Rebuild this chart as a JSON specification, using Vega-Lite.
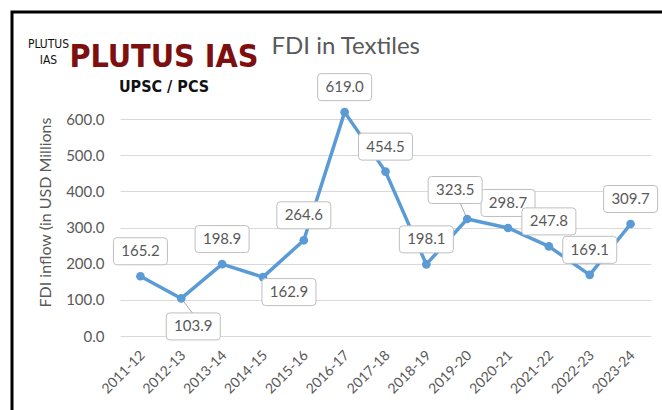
{
  "$schema": "https://vega.github.io/schema/vega-lite/v6.json",
  "width": 700,
  "height": 440,
  "autosize": {"type": "none"},
  "padding": {"left": 12, "top": 12, "right": -50, "bottom": -42},
  "background": "white",
  "title": {
    "text": "PLUTUS IAS",
    "subtitle": "UPSC / PCS",
    "anchor": "middle",
    "frame": "group",
    "dx": -198,
    "offset": -84,
    "font": "DejaVu Sans Condensed",
    "fontSize": 32,
    "fontWeight": "bold",
    "color": "#7d0f0f",
    "subtitleFont": "DejaVu Sans Condensed",
    "subtitleFontSize": 16,
    "subtitleFontWeight": "bold",
    "subtitleColor": "#111111",
    "subtitlePadding": 5
  },
  "data": {
    "values": [
      {"year": "2011-12", "value": 165.2},
      {"year": "2012-13", "value": 103.9},
      {"year": "2013-14", "value": 198.9},
      {"year": "2014-15", "value": 162.9},
      {"year": "2015-16", "value": 264.6},
      {"year": "2016-17", "value": 619.0},
      {"year": "2017-18", "value": 454.5},
      {"year": "2018-19", "value": 198.1},
      {"year": "2019-20", "value": 323.5},
      {"year": "2020-21", "value": 298.7},
      {"year": "2021-22", "value": 247.8},
      {"year": "2022-23", "value": 169.1},
      {"year": "2023-24", "value": 309.7}
    ]
  },
  "encoding": {
    "x": {"field": "year", "type": "ordinal", "sort": null, "scale": {"type": "point", "padding": 0.5, "range": [108, 639], "domain": ["2011-12","2012-13","2013-14","2014-15","2015-16","2016-17","2017-18","2018-19","2019-20","2020-21","2021-22","2022-23","2023-24"]}, "axis": null},
    "y": {"field": "value", "type": "quantitative", "scale": {"domain": [0, 600], "nice": false, "range": [324, 107]}, "axis": null}
  },
  "layer": [
    {
      "transform": [{"filter": "datum.year == '2012-13'"}],
      "mark": {"type": "rule", "color": "#a6a6a6", "strokeWidth": 1, "x2Offset": 13, "y2Offset": 17},
      "encoding": {"x2": {"field": "year"}, "y2": {"field": "value"}}
    },
    {
      "transform": [{"filter": "datum.year == '2019-20'"}],
      "mark": {"type": "rule", "color": "#a6a6a6", "strokeWidth": 1, "x2Offset": -7, "y2Offset": -16},
      "encoding": {"x2": {"field": "year"}, "y2": {"field": "value"}}
    },
    {
      "mark": {"type": "line", "color": "#5b9bd5", "strokeWidth": 3.5, "strokeJoin": "round"},
      "encoding": {
        "x": {
          "field": "year", "type": "ordinal", "sort": null,
          "scale": {"type": "point", "padding": 0.5, "range": [108, 639], "domain": ["2011-12","2012-13","2013-14","2014-15","2015-16","2016-17","2017-18","2018-19","2019-20","2020-21","2021-22","2022-23","2023-24"]},
          "axis": {"labelAngle": -45, "labelFontSize": 14, "labelColor": "#595959", "labelPadding": 12, "labelOffset": -3, "offset": -116, "ticks": false, "domain": false, "grid": false, "title": null}
        },
        "y": {
          "field": "value", "type": "quantitative",
          "scale": {"domain": [0, 600], "nice": false, "range": [324, 107]},
          "axis": {
            "values": [0, 100, 200, 300, 400, 500, 600],
            "format": ".1f",
            "offset": -108,
            "grid": true, "gridColor": "#d9d9d9", "gridWidth": 1.2,
            "ticks": false, "domain": false,
            "labelPadding": 16, "labelFontSize": 15, "labelColor": "#595959",
            "title": "FDI inflow (in USD Millions",
            "titleFontSize": 16, "titleFontWeight": "normal", "titleColor": "#595959",
            "titleX": -67, "titleY": 200
          }
        }
      }
    },
    {
      "mark": {"type": "point", "filled": true, "color": "#5b9bd5", "size": 75, "opacity": 1},
      "encoding": {
        "x": {
          "field": "year", "type": "ordinal", "sort": null,
          "scale": {"type": "point", "padding": 0.5, "range": [108, 639], "domain": ["2011-12","2012-13","2013-14","2014-15","2015-16","2016-17","2017-18","2018-19","2019-20","2020-21","2021-22","2022-23","2023-24"]},
          "axis": {"orient": "top", "labels": false, "ticks": false, "domain": false, "grid": false,
            "title": "FDI in Textiles", "titleFont": "Lato", "titleFontSize": 24, "titleFontWeight": "normal",
            "titleColor": "#595959", "titleAlign": "left", "titleAnchor": "start", "titleBaseline": "alphabetic",
            "titleX": 259, "titleY": 41}
        },
        "y": {
          "field": "value", "type": "quantitative",
          "scale": {"domain": [0, 600], "nice": false, "range": [324, 107]},
          "axis": {"orient": "right", "labels": false, "ticks": false, "domain": false, "grid": false,
            "title": ["PLUTUS", "IAS"], "titleAngle": 0, "titleAlign": "center", "titleBaseline": "alphabetic",
            "titleX": -664, "titleY": 35, "titleLineHeight": 16,
            "titleFont": "DejaVu Sans Condensed", "titleFontSize": 12, "titleFontWeight": "normal", "titleColor": "#111111"}
        }
      }
    },
    {
      "transform": [{"filter": "datum.year != '2012-13' && datum.year != '2014-15' && datum.year != '2019-20'"}],
      "mark": {"type": "point", "shape": "M-2.35,-1.35 L2.35,-1.35 Q2.7,-1.35 2.7,-1 L2.7,1 Q2.7,1.35 2.35,1.35 L-2.35,1.35 Q-2.7,1.35 -2.7,1 L-2.7,-1 Q-2.7,-1.35 -2.35,-1.35 Z", "size": 400, "filled": false, "fill": "white", "fillOpacity": 1, "stroke": "#bfbfbf", "strokeWidth": 1, "opacity": 1, "yOffset": -25}
    },
    {
      "transform": [{"filter": "datum.year != '2012-13' && datum.year != '2014-15' && datum.year != '2019-20'"}],
      "mark": {"type": "text", "font": "Lato", "fontSize": 15, "color": "#595959", "align": "center", "baseline": "middle", "yOffset": -25},
      "encoding": {"text": {"field": "value", "type": "quantitative", "format": ".1f"}}
    },
    {
      "transform": [{"filter": "datum.year == '2012-13'"}],
      "mark": {"type": "point", "shape": "M-2.35,-1.35 L2.35,-1.35 Q2.7,-1.35 2.7,-1 L2.7,1 Q2.7,1.35 2.35,1.35 L-2.35,1.35 Q-2.7,1.35 -2.7,1 L-2.7,-1 Q-2.7,-1.35 -2.35,-1.35 Z", "size": 400, "filled": false, "fill": "white", "fillOpacity": 1, "stroke": "#bfbfbf", "strokeWidth": 1, "opacity": 1, "xOffset": 12, "yOffset": 28}
    },
    {
      "transform": [{"filter": "datum.year == '2012-13'"}],
      "mark": {"type": "text", "font": "Lato", "fontSize": 15, "color": "#595959", "align": "center", "baseline": "middle", "xOffset": 12, "yOffset": 28},
      "encoding": {"text": {"field": "value", "type": "quantitative", "format": ".1f"}}
    },
    {
      "transform": [{"filter": "datum.year == '2014-15'"}],
      "mark": {"type": "point", "shape": "M-2.35,-1.35 L2.35,-1.35 Q2.7,-1.35 2.7,-1 L2.7,1 Q2.7,1.35 2.35,1.35 L-2.35,1.35 Q-2.7,1.35 -2.7,1 L-2.7,-1 Q-2.7,-1.35 -2.35,-1.35 Z", "size": 400, "filled": false, "fill": "white", "fillOpacity": 1, "stroke": "#bfbfbf", "strokeWidth": 1, "opacity": 1, "xOffset": 26, "yOffset": 15}
    },
    {
      "transform": [{"filter": "datum.year == '2014-15'"}],
      "mark": {"type": "text", "font": "Lato", "fontSize": 15, "color": "#595959", "align": "center", "baseline": "middle", "xOffset": 26, "yOffset": 15},
      "encoding": {"text": {"field": "value", "type": "quantitative", "format": ".1f"}}
    },
    {
      "transform": [{"filter": "datum.year == '2019-20'"}],
      "mark": {"type": "point", "shape": "M-2.35,-1.35 L2.35,-1.35 Q2.7,-1.35 2.7,-1 L2.7,1 Q2.7,1.35 2.35,1.35 L-2.35,1.35 Q-2.7,1.35 -2.7,1 L-2.7,-1 Q-2.7,-1.35 -2.35,-1.35 Z", "size": 400, "filled": false, "fill": "white", "fillOpacity": 1, "stroke": "#bfbfbf", "strokeWidth": 1, "opacity": 1, "xOffset": -12, "yOffset": -29}
    },
    {
      "transform": [{"filter": "datum.year == '2019-20'"}],
      "mark": {"type": "text", "font": "Lato", "fontSize": 15, "color": "#595959", "align": "center", "baseline": "middle", "xOffset": -12, "yOffset": -29},
      "encoding": {"text": {"field": "value", "type": "quantitative", "format": ".1f"}}
    }
  ],
  "resolve": {"axis": {"x": "independent", "y": "independent"}},
  "config": {
    "view": {"stroke": "#000000", "strokeWidth": 3},
    "font": "Lato",
    "axis": {"labelFont": "Lato", "titleFont": "Lato"}
  }
}
